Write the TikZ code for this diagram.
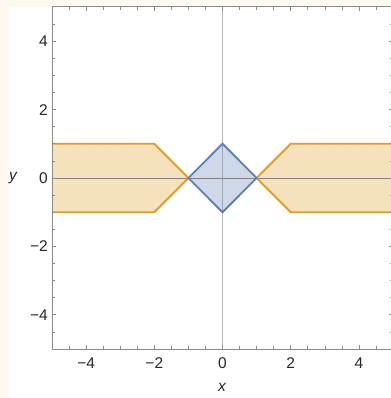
\documentclass[tikz,border=0pt]{standalone}
\usepackage{fontspec}
\setmainfont{Liberation Sans}
\definecolor{bg}{RGB}{255,248,240}
\definecolor{orangeE}{RGB}{225,156,36}
\definecolor{blueE}{RGB}{94,129,181}
\definecolor{frameC}{RGB}{140,140,140}
\definecolor{axisHC}{RGB}{130,130,130}
\definecolor{axisVC}{RGB}{185,185,185}
\tikzset{
  frameline/.style={draw=frameC, line width=1pt},
  majortick/.style={draw=frameC, line width=0.8pt},
  minortick/.style={draw=frameC, line width=0.6pt},
  axish/.style={draw=axisHC, line width=0.8pt},
  axisv/.style={draw=axisVC, line width=1.2pt},
  orangefill/.style={fill=orangeE, fill opacity=0.3},
  orangeedge/.style={draw=orangeE, line width=1.9pt, line join=miter},
  bluefill/.style={fill=blueE, fill opacity=0.3},
  blueedge/.style={draw=blueE, line width=1.9pt, line join=miter},
  ticklab/.style={font=\fontsize{15.5}{16}\selectfont, text=black!85, inner sep=0pt},
  axislab/.style={font=\fontsize{15.5}{16}\selectfont\itshape, text=black!85, inner sep=0pt}
}
\begin{document}
\begin{tikzpicture}[x=1pt,y=1pt]
\useasboundingbox (0,0) rectangle (390,-398);
\fill[bg] (0,0) rectangle (390,-398);
\fill[white] (9,-7) rectangle (390,-398);
\begin{scope}[shift={(222.5pt,-178pt)}, x=34.1pt, y=34.2pt]
  \begin{scope}
    \clip (-5,-5) rectangle (5,5);
    \draw[axisv] (0,-5) -- (0,5);
    \fill[orangefill] (-5,1) -- (-2,1) -- (-1,0) -- (-2,-1) -- (-5,-1) -- cycle;
    \fill[orangefill] (5,1) -- (2,1) -- (1,0) -- (2,-1) -- (5,-1) -- cycle;
    \fill[bluefill] (1,0) -- (0,1) -- (-1,0) -- (0,-1) -- cycle;
    \draw[axish] (-5,0) -- (5,0);
    \draw[orangeedge] (-5.2,1) -- (-2,1) -- (-1,0) -- (-2,-1) -- (-5.2,-1);
    \draw[orangeedge] (5.2,1) -- (2,1) -- (1,0) -- (2,-1) -- (5.2,-1);
    \draw[blueedge] (1,0) -- (0,1) -- (-1,0) -- (0,-1) -- cycle;
  \end{scope}
  % frame
  \draw[frameline] (-5,5) -- (-5,-5) -- (5,-5) -- (5,5) -- cycle;
  % ticks
  \foreach \t in {-4,-2,0,2,4} {
    \draw[majortick] (\t,-5) -- ++(0,4.2pt);
    \draw[majortick] (\t,5) -- ++(0,-4.2pt);
    \draw[majortick] (-5,\t) -- ++(4.2pt,0);
    \draw[majortick] (5,\t) -- ++(-4.2pt,0);
  }
  \foreach \t in {-4.5,-3.5,-3,-2.5,-1.5,-1,-0.5,0.5,1,1.5,2.5,3,3.5,4.5} {
    \draw[minortick] (\t,-5) -- ++(0,2.6pt);
    \draw[minortick] (\t,5) -- ++(0,-2.6pt);
    \draw[minortick] (-5,\t) -- ++(2.6pt,0);
    \draw[minortick] (5,\t) -- ++(-2.6pt,0);
  }
  % tick labels
  \node[ticklab] (xm4) at (-4,-5) [yshift=-14.5pt] {−4};
  \node[ticklab] (xm2) at (-2,-5) [yshift=-14.5pt] {−2};
  \node[ticklab] (x0) at (0,-5) [yshift=-14.5pt] {0};
  \node[ticklab] (x2) at (2,-5) [yshift=-14.5pt] {2};
  \node[ticklab] (x4) at (4,-5) [yshift=-14.5pt] {4};
  \node[ticklab, anchor=east] (ym4) at (-5,-4) [xshift=-4pt] {−4};
  \node[ticklab, anchor=east] (ym2) at (-5,-2) [xshift=-4pt] {−2};
  \node[ticklab, anchor=east] (y0) at (-5,0) [xshift=-4pt] {0};
  \node[ticklab, anchor=east] (y2) at (-5,2) [xshift=-4pt] {2};
  \node[ticklab, anchor=east] (y4) at (-5,4) [xshift=-4pt] {4};
\end{scope}
\node[axislab] (xlab) at (222,-387) {x};
\node[axislab] (ylab) at (13,-178) {y};
\end{tikzpicture}
\end{document}
